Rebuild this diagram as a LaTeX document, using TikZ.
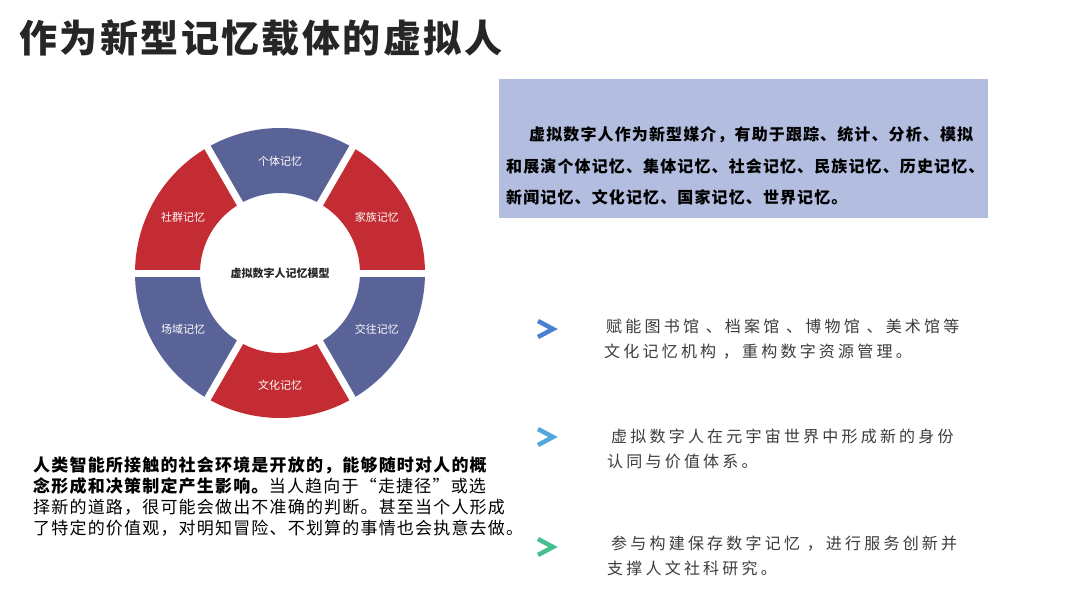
\documentclass[tikz,border=0pt]{standalone}
\usepackage{fontspec}
\setmainfont{Noto Sans CJK SC}
\usetikzlibrary{calc}
\definecolor{ringB}{HTML}{5A6397}
\definecolor{ringR}{HTML}{C22C32}
\definecolor{boxblue}{HTML}{B3BDE0}
\definecolor{bulA}{HTML}{4A7FD4}
\definecolor{bulB}{HTML}{52A8DC}
\definecolor{bulC}{HTML}{45C08E}
\definecolor{txtdark}{HTML}{262626}
\begin{document}
\begin{tikzpicture}[x=1pt,y=-1pt,
  txt/.style={anchor=west, inner sep=0pt, text=txtdark},
  titlestyle/.style={txt, font=\fontsize{38}{40}\selectfont\bfseries\addfontfeature{LetterSpace=6.5}},
  boxtxt/.style={txt, text=black, font=\fontsize{16}{18}\selectfont\bfseries\addfontfeature{LetterSpace=7}},
  bultxt/.style={txt, text=txtdark!90, font=\fontsize{16}{18}\selectfont\addfontfeature{LetterSpace=20}},
  lefttxt/.style={txt, text=black, font=\fontsize{17}{19}\selectfont\addfontfeature{LetterSpace=7}},
  leftbold/.style={lefttxt, font=\fontsize{17}{19}\selectfont\bfseries\addfontfeature{LetterSpace=7}},
  seglabel/.style={inner sep=0pt, text=white, font=\fontsize{11}{12}\selectfont},
  chevron/.style={line width=4.5pt, line join=miter, line cap=butt}
]
\useasboundingbox (0,0) rectangle (1080,608);
\fill[white] (0,0) rectangle (1080,608);

% title
\node[titlestyle] (title) at (19,38) {作为新型记忆载体的虚拟人};

% ring
\coordinate (c) at (280,273);
\foreach \a/\col/\lab/\nm in {-120/ringB/个体记忆/s1, -60/ringR/家族记忆/s2, 0/ringB/交往记忆/s3, 60/ringR/文化记忆/s4, 120/ringB/场域记忆/s5, 180/ringR/社群记忆/s6}{
  \fill[\col] ($(c)+(\a:145)$) arc[start angle=\a, delta angle=60, radius=145]
     -- ($(c)+(\a+60:80)$) arc[start angle=\a+60, delta angle=-60, radius=80] -- cycle;
}
\foreach \a in {0,60,120}{
  \draw[white, line width=7pt] ($(c)+(\a:150)$) -- ($(c)+(\a+180:150)$);
}
\foreach \a/\lab/\nm in {-90/个体记忆/s1, -30/家族记忆/s2, 30/交往记忆/s3, 90/文化记忆/s4, 150/场域记忆/s5, 210/社群记忆/s6}{
  \node[seglabel] (\nm) at ($(c)+(\a:112)$) {\lab};
}
\node[inner sep=0pt, text=txtdark, font=\fontsize{11}{12}\selectfont\bfseries] (center) at (c) {虚拟数字人记忆模型};

% box
\node[fill=boxblue, inner sep=0pt, minimum width=489, minimum height=139, anchor=north west] (box) at (499,79) {};
\node[boxtxt] (bl1) at (529,135) {虚拟数字人作为新型媒介，有助于跟踪、统计、分析、模拟};
\node[boxtxt] (bl2) at (506,166) {和展演个体记忆、集体记忆、社会记忆、民族记忆、历史记忆、};
\node[boxtxt] (bl3) at (506,197) {新闻记忆、文化记忆、国家记忆、世界记忆。};

% bullets
\draw[bulA, chevron] (538,321) -- (553,329) -- (538,337);
\draw[bulB, chevron] (538,429) -- (553,437) -- (538,445);
\draw[bulC, chevron] (538,539) -- (553,547) -- (538,555);

\node[bultxt] (p1a) at (606,326) {赋能图书馆 、档案馆 、博物馆 、美术馆等};
\node[bultxt] (p1b) at (604,352) {文化记忆机构 ，重构数字资源管理。};
\node[bultxt] (p2a) at (611,436) {虚拟数字人在元宇宙世界中形成新的身份};
\node[bultxt] (p2b) at (607,461) {认同与价值体系。};
\node[bultxt] (p3a) at (611,544) {参与构建保存数字记忆 ，进行服务创新并};
\node[bultxt] (p3b) at (607,568) {支撑人文社科研究。};

% left paragraph
\node[leftbold] (l1) at (33,465) {人类智能所接触的社会环境是开放的，能够随时对人的概};
\node[leftbold] (l2a) at (33,486) {念形成和决策制定产生影响。};
\node[lefttxt, anchor=west] (l2b) at (l2a.east) {当人趋向于“走捷径”或选};
\node[lefttxt] (l3) at (33,507) {择新的道路，很可能会做出不准确的判断。甚至当个人形成};
\node[lefttxt] (l4) at (33,528) {了特定的价值观，对明知冒险、不划算的事情也会执意去做。};
\end{tikzpicture}
\end{document}
